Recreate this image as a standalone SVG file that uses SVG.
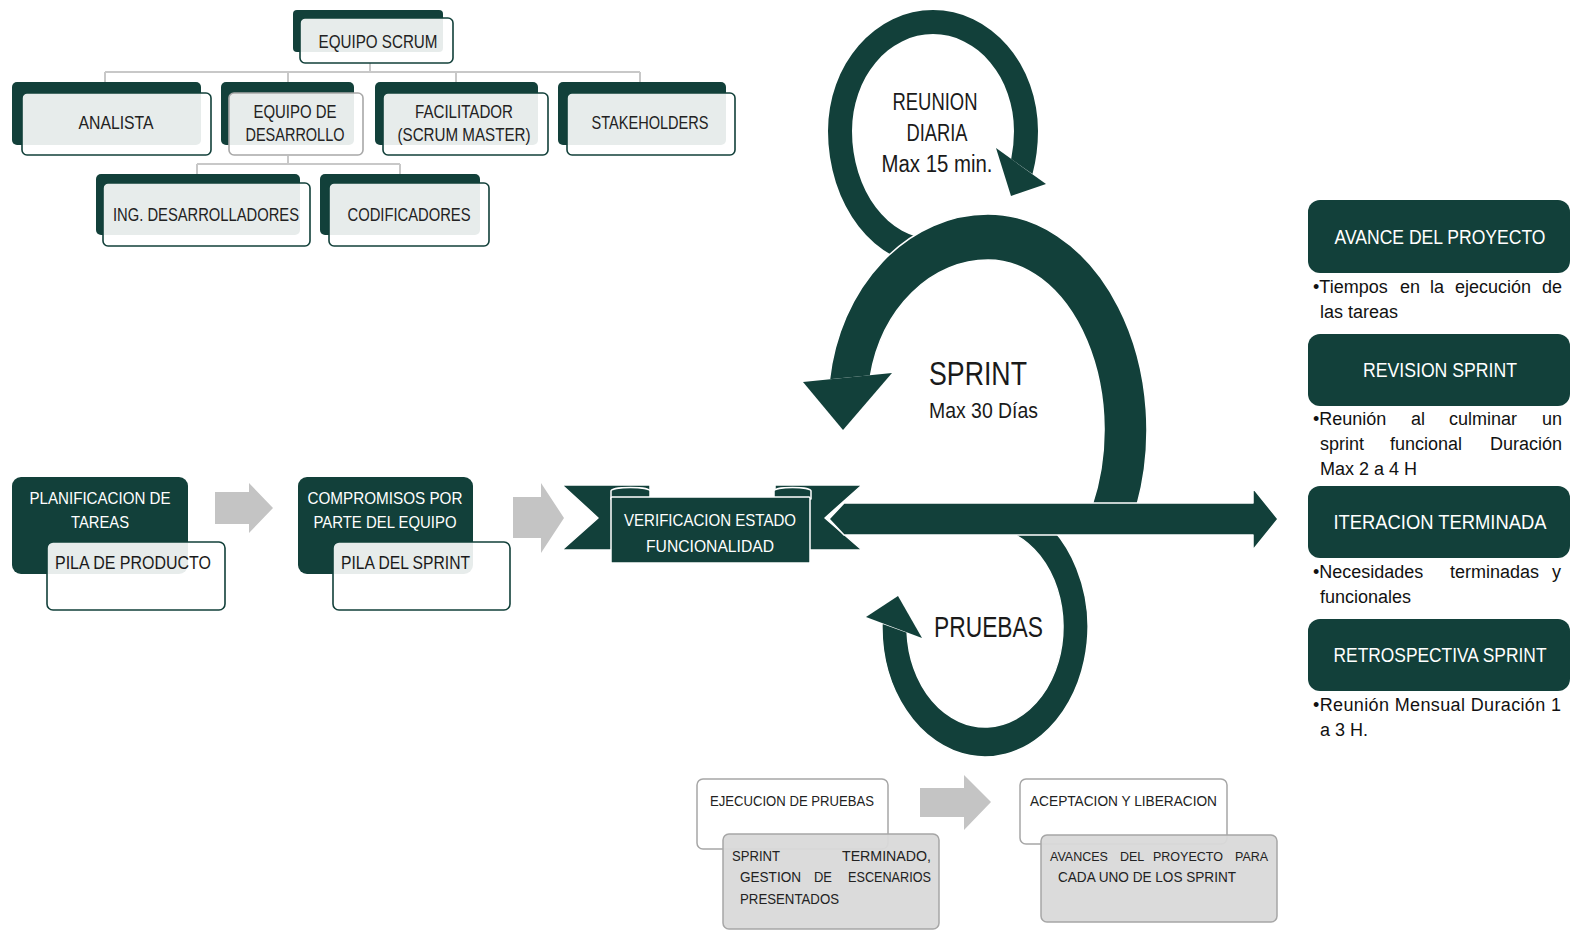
<svg xmlns="http://www.w3.org/2000/svg" width="1572" height="930" viewBox="0 0 1572 930">
<style>
 text { font-family: "Liberation Sans",Arial,sans-serif; }
 .back { fill:#12403A; }
 .front { fill:#fff; fill-opacity:0.9; stroke:#12403A; stroke-width:1.6; }
 .frontg { fill:#fff; fill-opacity:0.9; stroke:#A8A8A8; stroke-width:1.6; }
 .org { font-size:17.5px; fill:#222; text-anchor:middle; }
 .wt { fill:#fff; text-anchor:middle; }
 .dkt { fill:#1a1a1a; }
 .conn { stroke:#C8C8C8; stroke-width:2; fill:none; }
 .garrow { fill:#C4C4C4; }
 .shape { fill:#12403A; stroke:#fff; stroke-width:1.5; stroke-linejoin:round; }
 .panel { fill:#12403A; }
 .bul { font-size:18px; fill:#111; }
 .gbox { fill:#fff; stroke:#A6A6A6; stroke-width:1.5; }
 .gbox2 { fill:#D9D9D9; fill-opacity:0.95; stroke:#A6A6A6; stroke-width:1.5; }
 .sm { font-size:15px; fill:#222; }
 .sm2 { font-size:12.5px; fill:#222; }
</style>

<!-- connectors -->
<g id="connectors">
 <path class="conn" d="M370,63 V72 M105,72 H640 M105,72 V82 M288,72 V82 M456,72 V82 M640,72 V82"/>
 <path class="conn" d="M288,156 V164 M197,164 H400 M197,164 V174 M400,164 V174"/>
 <polygon class="garrow" points="215,492 249,492 249,483 273,508 249,533 249,524 215,524"/>
 <polygon class="garrow" points="513,497 541,497 541,483 564,518 541,553 541,538 513,538"/>
 <polygon class="garrow" points="920,788 964,788 964,775 991,802 964,830 964,817 920,817"/>
</g>

<!-- org chart -->
<g id="equipo-scrum">
 <rect class="back" x="293" y="10" width="150" height="42" rx="4"/>
 <rect class="front" x="300" y="18" width="153" height="45" rx="5"/>
 <text class="org" x="378" y="48" textLength="119" lengthAdjust="spacingAndGlyphs">EQUIPO SCRUM</text>
</g>
<g id="analista">
 <rect class="back" x="12" y="82" width="189" height="63" rx="5"/>
 <rect class="front" x="22" y="93" width="189" height="62" rx="5"/>
 <text class="org" x="116" y="129" textLength="75" lengthAdjust="spacingAndGlyphs">ANALISTA</text>
</g>
<g id="equipo-desarrollo">
 <rect class="back" x="221" y="82" width="133" height="63" rx="5"/>
 <rect class="frontg" x="229" y="93" width="134" height="62" rx="5"/>
 <text class="org" x="295" y="118" textLength="83" lengthAdjust="spacingAndGlyphs">EQUIPO DE</text>
 <text class="org" x="295" y="141" textLength="99" lengthAdjust="spacingAndGlyphs">DESARROLLO</text>
</g>
<g id="facilitador">
 <rect class="back" x="375" y="82" width="163" height="63" rx="5"/>
 <rect class="front" x="383" y="93" width="165" height="62" rx="5"/>
 <text class="org" x="464" y="118" textLength="98" lengthAdjust="spacingAndGlyphs">FACILITADOR</text>
 <text class="org" x="464" y="141" textLength="133" lengthAdjust="spacingAndGlyphs">(SCRUM MASTER)</text>
</g>
<g id="stakeholders">
 <rect class="back" x="558" y="82" width="168" height="63" rx="5"/>
 <rect class="front" x="567" y="93" width="168" height="62" rx="5"/>
 <text class="org" x="650" y="129" textLength="117" lengthAdjust="spacingAndGlyphs">STAKEHOLDERS</text>
</g>
<g id="ing-desarrolladores">
 <rect class="back" x="96" y="174" width="204" height="61" rx="5"/>
 <rect class="front" x="103" y="183" width="207" height="63" rx="5"/>
 <text class="org" x="206" y="221" textLength="186" lengthAdjust="spacingAndGlyphs">ING. DESARROLLADORES</text>
</g>
<g id="codificadores">
 <rect class="back" x="320" y="174" width="160" height="61" rx="5"/>
 <rect class="front" x="329" y="183" width="160" height="63" rx="5"/>
 <text class="org" x="409" y="221" textLength="123" lengthAdjust="spacingAndGlyphs">CODIFICADORES</text>
</g>

<!-- left flow -->
<g id="planificacion">
 <rect class="panel" x="12" y="477" width="176" height="97" rx="9"/>
 <text class="wt" x="100" y="504" font-size="17" textLength="141" lengthAdjust="spacingAndGlyphs">PLANIFICACION DE</text>
 <text class="wt" x="100" y="528" font-size="17" textLength="58" lengthAdjust="spacingAndGlyphs">TAREAS</text>
</g>
<g id="pila-producto">
 <rect class="front" x="47" y="542" width="178" height="68" rx="6"/>
 <text class="dkt" x="55" y="569" font-size="18.5" textLength="156" lengthAdjust="spacingAndGlyphs">PILA DE PRODUCTO</text>
</g>
<g id="compromisos">
 <rect class="panel" x="298" y="477" width="175" height="97" rx="9"/>
 <text class="wt" x="385" y="504" font-size="17" textLength="155" lengthAdjust="spacingAndGlyphs">COMPROMISOS POR</text>
 <text class="wt" x="385" y="528" font-size="17" textLength="143" lengthAdjust="spacingAndGlyphs">PARTE DEL EQUIPO</text>
</g>
<g id="pila-sprint">
 <rect class="front" x="333" y="542" width="177" height="68" rx="6"/>
 <text class="dkt" x="341" y="569" font-size="18.5" textLength="129" lengthAdjust="spacingAndGlyphs">PILA DEL SPRINT</text>
</g>

<!-- cycle arrows -->
<g id="reunion-arrow">
 <path class="panel" d="M1032.5,174 A105,135 0 0 0 1038,131 A105,121 0 0 0 828,131 A105,135 0 0 0 933,266 L933,239 A81,108 0 0 1 852,131 A81,97 0 0 1 1014,131 A81,108 0 0 1 1011.2,159 Z"/>
 <polygon class="panel" points="996,148 1046,184 1011,196"/>
</g>
<g id="sprint-arrow">
 <path class="shape" d="M829.4,380 A160,191 0 0 1 988,214 A159,216 0 0 1 1136.8,506 L1091.8,506 A116,170 0 0 0 988,260 A120,145 0 0 0 870.4,376 Z"/>
 <polygon class="panel" points="803,382 892,373 843,430"/>
</g>
<g id="pruebas-arrow">
 <path class="shape" d="M1022.7,506 A103,130 0 1 1 882,623 L907.1,632 A78,100 0 1 0 985,527 Z"/>
 <polygon class="panel" points="866,617 922,638 898,596"/>
</g>

<!-- ribbon + main arrow -->
<g id="verificacion">
 <polygon class="shape" points="562,485 650,485 650,550 562,550 598,518"/>
 <polygon class="shape" points="775,485 862,485 825,518 862,550 775,550"/>
 <polygon class="shape" points="829,519 844,503 1253,503 1253,488 1278,519 1253,550 1253,535 844,535"/>
 <path class="shape" d="M611,499 V491 A19.5,3.5 0 0 1 650,491 V499 Z"/>
 <path class="shape" d="M774,499 V491 A18.5,3.5 0 0 1 811,491 V499 Z"/>
 <rect class="shape" x="611" y="497" width="199" height="66" rx="1"/>
 <text class="wt" x="710" y="526" font-size="17" textLength="172" lengthAdjust="spacingAndGlyphs">VERIFICACION ESTADO</text>
 <text class="wt" x="710" y="552" font-size="17" textLength="128" lengthAdjust="spacingAndGlyphs">FUNCIONALIDAD</text>
</g>

<g id="reunion-label">
 <text class="dkt" x="935" y="110" font-size="23" text-anchor="middle" textLength="85" lengthAdjust="spacingAndGlyphs">REUNION</text>
 <text class="dkt" x="937" y="141" font-size="23" text-anchor="middle" textLength="61" lengthAdjust="spacingAndGlyphs">DIARIA</text>
 <text class="dkt" x="937" y="172" font-size="23" text-anchor="middle" textLength="111" lengthAdjust="spacingAndGlyphs">Max 15 min.</text>
</g>
<g id="sprint-label">
 <text class="dkt" x="929" y="385" font-size="33" textLength="98" lengthAdjust="spacingAndGlyphs">SPRINT</text>
 <text class="dkt" x="929" y="418" font-size="22" textLength="109" lengthAdjust="spacingAndGlyphs">Max 30 Días</text>
</g>
<g id="pruebas-label">
 <text class="dkt" x="934" y="637" font-size="29" textLength="109" lengthAdjust="spacingAndGlyphs">PRUEBAS</text>
</g>

<!-- right panel -->
<g id="avance">
 <rect class="panel" x="1308" y="200" width="262" height="73" rx="12"/>
 <text class="wt" x="1440" y="244" font-size="19.5" textLength="211" lengthAdjust="spacingAndGlyphs">AVANCE DEL PROYECTO</text>
 <text class="bul" y="293"><tspan x="1313">•Tiempos</tspan><tspan x="1400">en</tspan><tspan x="1430">la</tspan><tspan x="1455">ejecución</tspan><tspan x="1542">de</tspan></text>
 <text class="bul" x="1320" y="318">las tareas</text>
</g>
<g id="revision">
 <rect class="panel" x="1308" y="334" width="262" height="72" rx="12"/>
 <text class="wt" x="1440" y="377" font-size="19.5" textLength="154" lengthAdjust="spacingAndGlyphs">REVISION SPRINT</text>
 <text class="bul" y="425"><tspan x="1313">•Reunión</tspan><tspan x="1411">al</tspan><tspan x="1449">culminar</tspan><tspan x="1542">un</tspan></text>
 <text class="bul" y="450"><tspan x="1320">sprint</tspan><tspan x="1390">funcional</tspan><tspan x="1490">Duración</tspan></text>
 <text class="bul" x="1320" y="475">Max 2 a 4 H</text>
</g>
<g id="iteracion">
 <rect class="panel" x="1308" y="486" width="262" height="72" rx="12"/>
 <text class="wt" x="1440" y="529" font-size="19.5" textLength="213" lengthAdjust="spacingAndGlyphs">ITERACION TERMINADA</text>
 <text class="bul" y="578"><tspan x="1313">•Necesidades</tspan><tspan x="1450">terminadas</tspan><tspan x="1552">y</tspan></text>
 <text class="bul" x="1320" y="603">funcionales</text>
</g>
<g id="retrospectiva">
 <rect class="panel" x="1308" y="619" width="262" height="72" rx="12"/>
 <text class="wt" x="1440" y="662" font-size="19.5" textLength="213" lengthAdjust="spacingAndGlyphs">RETROSPECTIVA SPRINT</text>
 <text class="bul" x="1313" y="711" textLength="248" lengthAdjust="spacing">•Reunión Mensual Duración 1</text>
 <text class="bul" x="1320" y="736">a 3 H.</text>
</g>

<!-- bottom -->
<g id="ejecucion">
 <rect class="gbox" x="697" y="779" width="191" height="70" rx="6"/>
 <text class="sm" x="710" y="806" textLength="164" lengthAdjust="spacingAndGlyphs">EJECUCION DE PRUEBAS</text>
</g>
<g id="sprint-terminado">
 <rect class="gbox2" x="723" y="834" width="216" height="95" rx="6"/>
 <text class="sm" y="861"><tspan x="732" textLength="48" lengthAdjust="spacingAndGlyphs">SPRINT</tspan><tspan x="842" textLength="89" lengthAdjust="spacingAndGlyphs">TERMINADO,</tspan></text>
 <text class="sm" y="882"><tspan x="740" textLength="61" lengthAdjust="spacingAndGlyphs">GESTION</tspan><tspan x="814" textLength="18" lengthAdjust="spacingAndGlyphs">DE</tspan><tspan x="848" textLength="83" lengthAdjust="spacingAndGlyphs">ESCENARIOS</tspan></text>
 <text class="sm" x="740" y="904" textLength="99" lengthAdjust="spacingAndGlyphs">PRESENTADOS</text>
</g>
<g id="aceptacion">
 <rect class="gbox" x="1020" y="779" width="207" height="65" rx="6"/>
 <text class="sm" x="1030" y="806" textLength="187" lengthAdjust="spacingAndGlyphs">ACEPTACION Y LIBERACION</text>
</g>
<g id="avances">
 <rect class="gbox2" x="1041" y="835" width="236" height="87" rx="6"/>
 <text class="sm2" y="861"><tspan x="1050">AVANCES</tspan><tspan x="1120">DEL</tspan><tspan x="1153">PROYECTO</tspan><tspan x="1235">PARA</tspan></text>
 <text class="sm" x="1058" y="882" textLength="178" lengthAdjust="spacingAndGlyphs">CADA UNO DE LOS SPRINT</text>
</g>
</svg>
